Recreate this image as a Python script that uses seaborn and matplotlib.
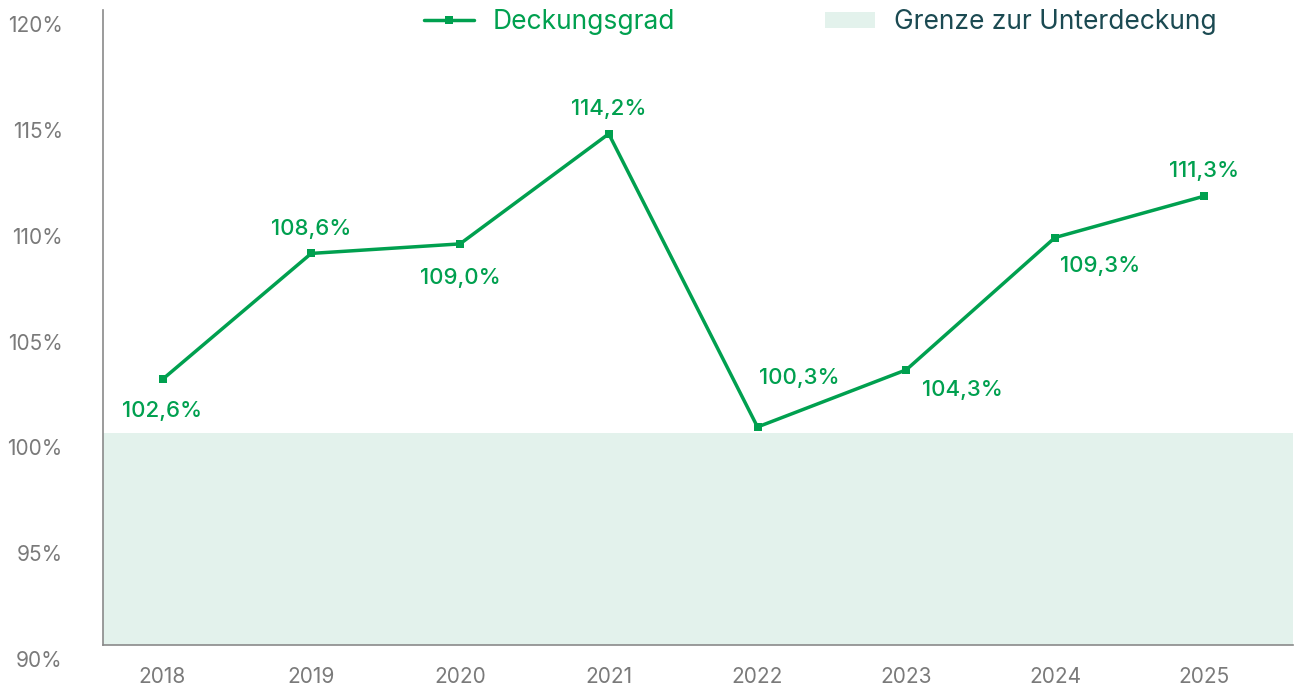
import numpy as np
import pandas as pd
import seaborn as sns
import matplotlib.pyplot as plt
from matplotlib.lines import Line2D
from matplotlib.patches import Patch
import matplotlib.transforms as mtransforms

# Data
years = ['2018', '2019', '2020', '2021', '2022', '2023', '2024', '2025']
plotted = [102.55, 108.5, 108.95, 114.15, 100.3, 103.0, 109.25, 111.2]
labels = ['102,6%', '108,6%', '109,0%', '114,2%', '100,3%', '104,3%', '109,3%', '111,3%']
# label offsets in pixels (dx, dy) relative to each point
offsets_px = [(0, -32), (0, 24), (0, -34), (0, 25), (42, 49), (56, -20), (45, -28), (0, 25)]
limit = 100
y_ticks = [90, 95, 100, 105, 110, 115, 120]

green = '#00a04f'
shade = '#e3f2ec'
dark_teal = '#1b4a52'
grey = '#7a7a7a'

sns.set_style('white')
plt.rcParams['font.family'] = ['Inter', 'DejaVu Sans']

fig = plt.figure(figsize=(12.95, 6.86), dpi=100)
ax = fig.add_axes([103 / 1295, 1 - 645 / 686, 1190 / 1295, 635 / 686])

df = pd.DataFrame({'x': np.arange(len(years)), 'Deckungsgrad': plotted})

ax.axhspan(90, limit, color=shade, zorder=0, lw=0)
sns.lineplot(data=df, x='x', y='Deckungsgrad', ax=ax, color=green, lw=2.5,
             marker='s', markersize=6, markeredgewidth=0, zorder=3)

for i, (val, lab) in enumerate(zip(plotted, labels)):
    dx, dy = offsets_px[i]
    ax.annotate(lab, (i, val), xytext=(dx * 0.72, dy * 0.72), textcoords='offset points',
                ha='center', va='center', color=green, fontsize=16, fontweight='medium')

ax.set_xlim(-0.4, 7.6)
ax.set_ylim(90, 120)
ax.set_xticks(range(len(years)))
ax.set_xticklabels(years)
ax.set_yticks(y_ticks)
ax.set_yticklabels([f'{t}%' for t in y_ticks])
ax.set_xlabel('')
ax.set_ylabel('')
ax.tick_params(axis='both', length=0, labelsize=15, labelcolor=grey)
ax.tick_params(axis='y', pad=29)
ax.tick_params(axis='x', pad=16)

# y tick labels sit a bit below their gridline position
shift = mtransforms.ScaledTranslation(0, -14 / 100, fig.dpi_scale_trans)
for t in ax.get_yticklabels():
    t.set_transform(t.get_transform() + shift)

for side in ['top', 'right']:
    ax.spines[side].set_visible(False)
for side in ['left', 'bottom']:
    ax.spines[side].set_color('#8a8a8a')
    ax.spines[side].set_linewidth(1.2)

handles = [Line2D([0], [0], color=green, lw=2.5, marker='s', markersize=6, markeredgewidth=0),
           Patch(facecolor=shade, edgecolor='none')]
leg = fig.legend(handles, ['Deckungsgrad', 'Grenze zur Unterdeckung'], loc='center',
                 bbox_to_anchor=(820 / 1295, 1 - 22 / 686), ncol=2, frameon=False,
                 fontsize=19, handlelength=1.9, handleheight=0.55, handletextpad=0.7,
                 columnspacing=5.7, borderpad=0)
leg.get_texts()[0].set_color(green)
leg.get_texts()[1].set_color(dark_teal)

fig.savefig('out.png', dpi=100)
